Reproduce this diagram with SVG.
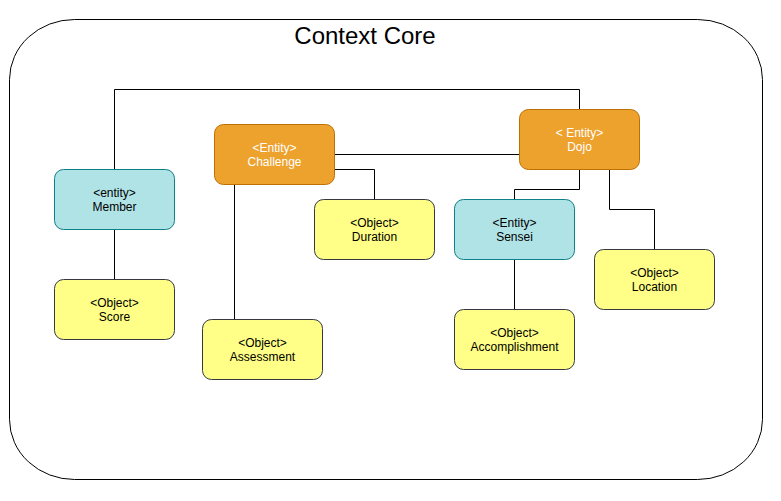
<svg xmlns="http://www.w3.org/2000/svg" width="781" height="501" viewBox="0 0 781 501">
<style>
.n rect{stroke-width:1}
.org rect{fill:#EEA22E;stroke:#BD7000}
.cyn rect{fill:#B0E3E6;stroke:#0E8088}
.yel rect{fill:#FFFF88;stroke:#36393D}
text{font-family:"Liberation Sans",Arial,Helvetica,sans-serif;font-size:12px;text-anchor:middle;fill:#000}
.org text{fill:#FFFFFF}
.title{font-size:24px}
#edges path{fill:none;stroke:#000;stroke-width:1}
</style>
<rect width="781" height="501" fill="#FFFFFF"/>
<g id="container">
<rect x="9.5" y="19.5" width="753" height="460" rx="65" ry="60" fill="none" stroke="#000" stroke-width="1"/>
<text class="title" x="365" y="43.5">Context Core</text>
</g>
<g id="edges">
<path d="M114.5 169.5 V89.5 H579.5 V109.5"/>
<path d="M334.5 154.5 H519.5"/>
<path d="M334.5 169.5 H374.5 V199.5"/>
<path d="M579.5 169.5 V189.5 H514.5 V199.5"/>
<path d="M609.5 169.5 V209.5 H654.5 V249.5"/>
<path d="M234.5 184.5 V319.5"/>
<path d="M114.5 229.5 V279.5"/>
<path d="M514.5 259.5 V309.5"/>
</g>
<g id="challenge" class="n org"><rect x="214.5" y="124.5" width="120" height="60" rx="9"/><text x="274.5" y="151.5">&lt;Entity&gt;</text><text x="274.5" y="165.5">Challenge</text></g>
<g id="dojo" class="n org"><rect x="519.5" y="109.5" width="120" height="60" rx="9"/><text x="579.5" y="136.5">&lt; Entity&gt;</text><text x="579.5" y="150.5">Dojo</text></g>
<g id="member" class="n cyn"><rect x="54.5" y="169.5" width="120" height="60" rx="9"/><text x="114.5" y="196.5">&lt;entity&gt;</text><text x="114.5" y="210.5">Member</text></g>
<g id="sensei" class="n cyn"><rect x="454.5" y="199.5" width="120" height="60" rx="9"/><text x="514.5" y="226.5">&lt;Entity&gt;</text><text x="514.5" y="240.5">Sensei</text></g>
<g id="duration" class="n yel"><rect x="314.5" y="199.5" width="120" height="60" rx="9"/><text x="374.5" y="226.5">&lt;Object&gt;</text><text x="374.5" y="240.5">Duration</text></g>
<g id="score" class="n yel"><rect x="54.5" y="279.5" width="120" height="60" rx="9"/><text x="114.5" y="306.5">&lt;Object&gt;</text><text x="114.5" y="320.5">Score</text></g>
<g id="assessment" class="n yel"><rect x="202.5" y="319.5" width="120" height="60" rx="9"/><text x="262.5" y="346.5">&lt;Object&gt;</text><text x="262.5" y="360.5">Assessment</text></g>
<g id="location" class="n yel"><rect x="594.5" y="249.5" width="120" height="60" rx="9"/><text x="654.5" y="276.5">&lt;Object&gt;</text><text x="654.5" y="290.5">Location</text></g>
<g id="accomplishment" class="n yel"><rect x="454.5" y="309.5" width="120" height="60" rx="9"/><text x="514.5" y="336.5">&lt;Object&gt;</text><text x="514.5" y="350.5">Accomplishment</text></g>
</svg>
